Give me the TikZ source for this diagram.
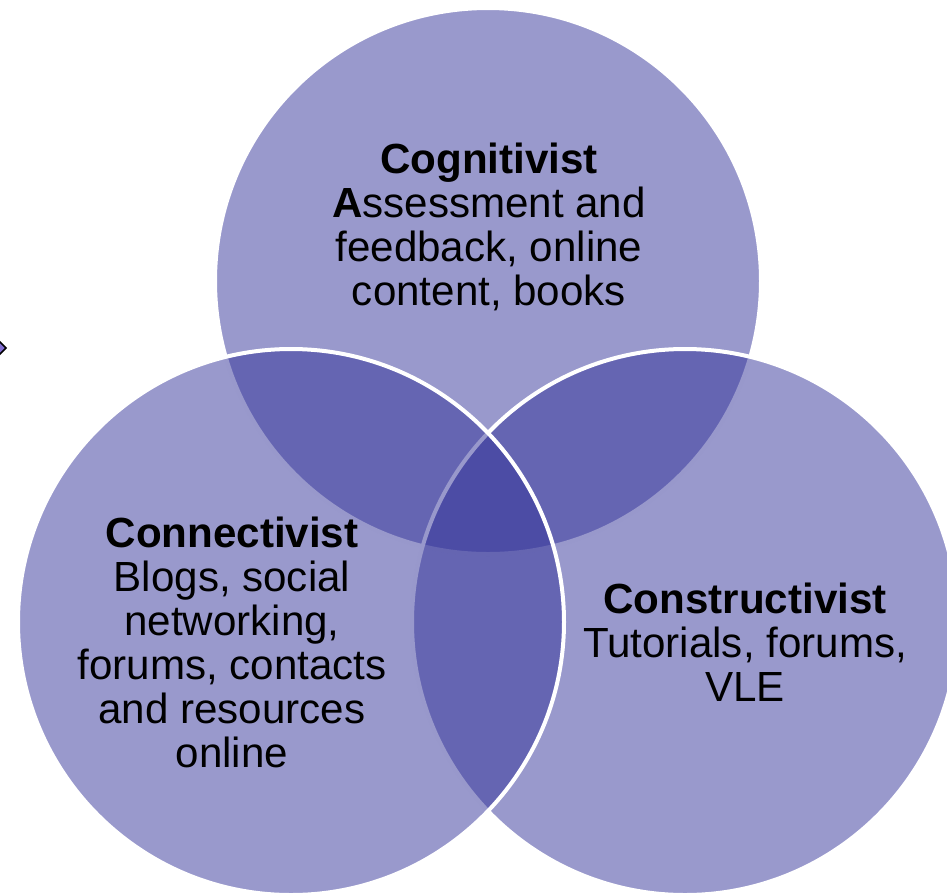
\documentclass[tikz,border=0pt]{standalone}
\usepackage{fontspec}
\setmainfont{Liberation Sans}

\definecolor{vennfill}{RGB}{51,51,153}
\definecolor{tipfill}{RGB}{130,110,210}

\tikzset{
  ring/.style = {fill = vennfill, fill opacity = 0.5, draw = white, line width = 3pt},
  blurb/.style = {align = center, text = black, inner sep = 0pt,
    font = \fontsize{31.6}{33}\selectfont}
}

\begin{document}
\begin{tikzpicture} [x = 0.75pt, y = -0.75pt]
\useasboundingbox (0.0, 0.0) rectangle (947.0, 894.0);
\clip (0.0, 0.0) rectangle (947.0, 894.0);
% small marker at the left edge
\draw[fill = tipfill, line width = 1.2pt] (-8.0, 348.0) -- (-1.0, 341.0) -- (6.0, 348.0) -- (-1.0, 355.0) -- cycle;
% the three circles, top first, then right, then left
\draw[ring] (488.0, 281.0) circle [radius = 273];
\draw[ring] (685.0, 622.0) circle [radius = 273];
\draw[ring] (291.0, 622.0) circle [radius = 273];
% texts
\node[blurb] (cognitivist) at (489.0, 227.0)
  {\textbf{Cognitivist}\\\textbf{A}ssessment and\\feedback, online\\content, books};
\node[blurb] (connectivist) at (232.0, 642.0)
  {\textbf{Connectivist}\\Blogs, social\\networking,\\forums, contacts\\and resources\\online};
\node[blurb] (constructivist) at (745.0, 642.0)
  {\textbf{Constructivist}\\Tutorials, forums,\\VLE};
\end{tikzpicture}
\end{document}
